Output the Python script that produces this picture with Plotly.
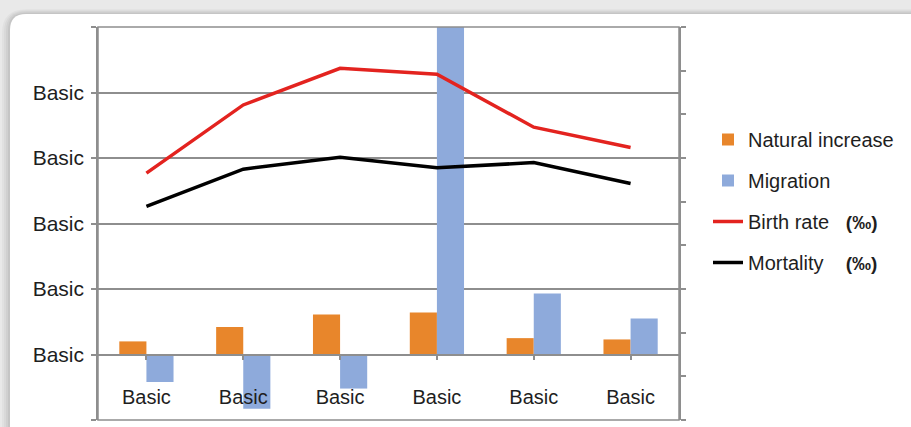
import plotly.graph_objects as go

# ---- data ----
categories = ["Basic", "Basic", "Basic", "Basic", "Basic", "Basic"]
natural_increase = [2.0, 4.2, 6.1, 6.4, 2.5, 2.3]
migration = [-4.2, -8.3, -5.2, 60.0, 9.3, 5.5]
birth_rate = [27.7, 38.1, 43.7, 42.8, 34.7, 31.6]
mortality = [22.6, 28.3, 30.1, 28.5, 29.3, 26.1]
y_ticks = [-10, 0, 10, 20, 30, 40, 50]
y_tick_text = ["", "Basic", "Basic", "Basic", "Basic", "Basic", ""]

x_idx = list(range(len(categories)))

W, H = 911, 427
ML, MR, MT, MB = 98, 232, 27, 7
PW, PH = W - ML - MR, H - MT - MB

FONT = "Liberation Sans, Arial, sans-serif"
GRID = "#8e8e8e"
TXT = "#1e1e1e"
PERMILLE = "<b><span style='font-size:19px'>(‰)</span></b>"


def px_x(p):
    return (p - ML) / PW


def px_y(p):
    return (H - MB - p) / PH


def rounded_rect(x0, y0, x1, y1, r):
    """Rounded rectangle path in paper units from pixel corners."""
    X0, X1 = px_x(x0), px_x(x1)
    Y0, Y1 = px_y(y0), px_y(y1)
    rx, ry = r / PW, r / PH
    return (
        f"M{X0 + rx},{Y0} L{X1 - rx},{Y0} Q{X1},{Y0} {X1},{Y0 - ry} "
        f"L{X1},{Y1 + ry} Q{X1},{Y1} {X1 - rx},{Y1} "
        f"L{X0 + rx},{Y1} Q{X0},{Y1} {X0},{Y1 + ry} "
        f"L{X0},{Y0 - ry} Q{X0},{Y0} {X0 + rx},{Y0} Z"
    )


fig = go.Figure()

fig.add_trace(go.Bar(
    x=x_idx, y=natural_increase, name="Natural increase",
    marker=dict(color="#e8862b", line=dict(width=0)),
    legendgroup="a",
))
fig.add_trace(go.Bar(
    x=x_idx, y=migration, name="Migration",
    marker=dict(color="#8eaadb", line=dict(width=0)),
    legendgroup="b",
))
fig.add_trace(go.Scatter(
    x=x_idx, y=birth_rate, mode="lines",
    name="Birth rate&nbsp;&nbsp;&nbsp;" + PERMILLE,
    line=dict(color="#e3231f", width=3.5),
    legendgroup="c",
))
fig.add_trace(go.Scatter(
    x=x_idx, y=mortality, mode="lines",
    name="Mortality&nbsp;&nbsp;&nbsp;&nbsp;" + PERMILLE,
    line=dict(color="#000000", width=3.5),
    legendgroup="d",
))
# invisible trace carrying the right-hand tick axis
fig.add_trace(go.Scatter(
    x=[x_idx[0]], y=[0], yaxis="y2", mode="markers",
    marker=dict(opacity=0), showlegend=False, hoverinfo="skip",
))

shapes = []
# soft shadow around the panel
for i, op in enumerate([0.03, 0.035, 0.04, 0.05]):
    g = 8 - 2 * i
    shapes.append(dict(
        type="path", xref="paper", yref="paper", layer="below",
        path=rounded_rect(10 - g, 14 - g * 0.6, 940, 460, 16 + g),
        fillcolor=f"rgba(0,0,0,{op})", line=dict(width=0),
    ))
# white panel
shapes.append(dict(
    type="path", xref="paper", yref="paper", layer="below",
    path=rounded_rect(10, 14, 940, 460, 16),
    fillcolor="white", line=dict(width=0),
))
# plot frame
shapes.append(dict(
    type="rect", xref="paper", yref="paper", x0=0, x1=1, y0=0, y1=1,
    line=dict(color=GRID, width=1.5), layer="above",
))

fig.update_layout(
    width=W, height=H,
    margin=dict(l=ML, r=MR, t=MT, b=MB),
    paper_bgcolor="#e9e9e9",
    plot_bgcolor="white",
    font=dict(family=FONT, size=20, color=TXT),
    barmode="group",
    bargap=0.44,
    bargroupgap=0,
    showlegend=True,
    shapes=shapes,
    legend=dict(
        x=px_x(708), xanchor="left",
        y=px_y(120), yanchor="top",
        bgcolor="rgba(0,0,0,0)",
        font=dict(family=FONT, size=20, color=TXT),
        traceorder="grouped",
        tracegroupgap=12,
        itemwidth=30,
    ),
    xaxis=dict(
        range=[-0.5, 5.5],
        tickmode="array", tickvals=x_idx, ticktext=categories,
        anchor="free", position=px_y(355),
        showline=True, linecolor=GRID, linewidth=1.5,
        ticks="outside", tickson="boundaries", ticklen=4,
        tickcolor=GRID, tickwidth=1.5,
        ticklabelstandoff=20,
        showgrid=False, zeroline=False,
        tickfont=dict(family=FONT, size=20, color=TXT),
    ),
    yaxis=dict(
        range=[-10, 50],
        tickmode="array", tickvals=y_ticks, ticktext=y_tick_text,
        showgrid=True, gridcolor=GRID, gridwidth=1.5,
        zeroline=False,
        showline=True, linecolor=GRID, linewidth=1.5,
        ticks="outside", ticklen=5, tickcolor=GRID, tickwidth=1.5,
        ticklabelstandoff=3,
        tickfont=dict(family=FONT, size=21, color=TXT),
    ),
    yaxis2=dict(
        overlaying="y", side="right", range=[0, 9],
        tickmode="linear", tick0=0, dtick=1,
        showticklabels=False, showgrid=False, zeroline=False,
        showline=True, linecolor=GRID, linewidth=1.5,
        ticks="outside", ticklen=5, tickcolor=GRID, tickwidth=1.5,
    ),
)

fig.write_html("out.html")
